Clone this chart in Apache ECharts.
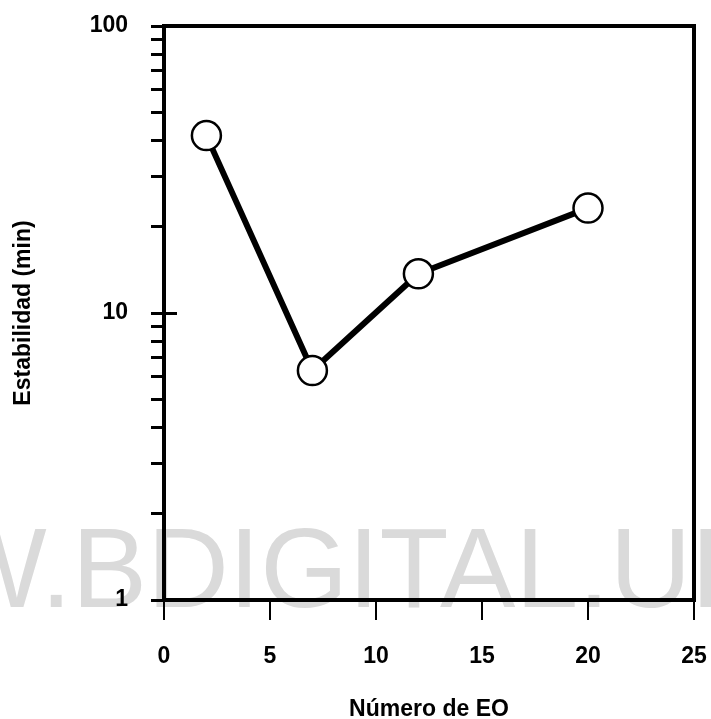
<!DOCTYPE html>
<html>
<head>
<meta charset="utf-8">
<script src="https://cdn.jsdelivr.net/npm/echarts@6/dist/echarts.min.js"></script>
<style>
    html, body { margin: 0; padding: 0; background: #fff; }
    #chart { width: 711px; height: 719px; }
</style>
</head>
<body>
<div id="chart"></div>
<script>
const eoNumbers = [2, 7, 12, 20];
const stability = [41.5, 6.3, 13.7, 23.2];
const xTicks = [0, 5, 10, 15, 20, 25];
const yMajor = [1, 10, 100];
const yMinor = [2, 3, 4, 5, 6, 7, 8, 9, 20, 30, 40, 50, 60, 70, 80, 90];

const labelFont = {fontFamily: 'Liberation Sans', fontWeight: 'bold', fontSize: 23, color: '#000'};

window.onload = () => {
    const chart = echarts.init(document.getElementById('chart'));

    const option = {
        animation: false,
        backgroundColor: '#fff',
        graphic: [{
            type: 'text',
            z: -1,
            left: -60,
            top: 519,
            style: {
                text: 'W.BDIGITAL.UL',
                font: 'normal 113px "Liberation Sans"',
                fill: '#dadada'
            }
        }],
        grid: {
            left: 164, right: 17, top: 26, bottom: 119,
            outerBoundsMode: 'none',
            containLabel: false,
            show: true, borderColor: '#000', borderWidth: 4, backgroundColor: 'transparent'
        },
        xAxis: {
            type: 'value',
            min: 0, max: 25, interval: 5,
            name: 'Número de EO',
            nameLocation: 'middle',
            nameGap: 98,
            nameTextStyle: labelFont,
            axisLine: {show: true, lineStyle: {color: '#000', width: 4}},
            axisTick: {show: true, inside: false, length: 20, lineStyle: {color: '#000', width: 2}},
            axisLabel: Object.assign({margin: 45, customValues: xTicks}, labelFont),
            splitLine: {show: false}
        },
        yAxis: [{
            type: 'log',
            logBase: 10,
            min: 1, max: 100,
            name: 'Estabilidad (min)',
            nameLocation: 'middle',
            nameGap: 129,
            nameTextStyle: labelFont,
            axisLine: {show: true, lineStyle: {color: '#000', width: 4}},
            axisTick: {show: true, inside: false, length: 13, customValues: yMajor.concat(yMinor),
                lineStyle: {color: '#000', width: 3}},
            axisLabel: Object.assign({margin: 36, customValues: yMajor}, labelFont),
            splitLine: {show: false}
        }, {
            type: 'log',
            logBase: 10,
            min: 1, max: 100,
            position: 'left',
            axisLine: {show: false},
            axisTick: {show: true, inside: true, length: 13, customValues: [10],
                lineStyle: {color: '#000', width: 3}},
            axisLabel: {show: false},
            splitLine: {show: false}
        }],
        series: [{
            type: 'line',
            data: eoNumbers.map((x, i) => [x, stability[i]]),
            symbol: 'circle',
            symbolSize: 29,
            lineStyle: {color: '#000', width: 6},
            itemStyle: {color: '#fff', borderColor: '#000', borderWidth: 2.5},
            z: 5
        }]
    };

    chart.setOption(option);
};
</script>
</body>
</html>
